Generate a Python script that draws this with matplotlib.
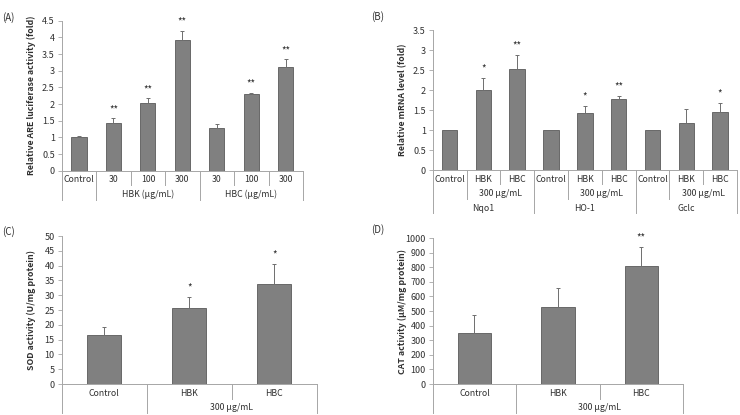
"""
Four-panel bar chart: ARE luciferase, mRNA levels, SOD and CAT activity.
"""

import matplotlib

matplotlib.use("Agg")
import matplotlib.pyplot as plt
import numpy as np

plt.rcParams["font.family"] = ["Noto Sans CJK KR", "DejaVu Sans"]

W, H = 740, 415

# ---- data ----
a_labels = ["Control", "30", "100", "300", "30", "100", "300"]
a_groups = [("", 0, 0), ("HBK (μg/mL)", 1, 3), ("HBC (μg/mL)", 4, 6)]
a_values = [1.0, 1.42, 2.03, 3.92, 1.29, 2.29, 3.10]
a_errors = [0.05, 0.15, 0.14, 0.27, 0.10, 0.05, 0.24]
a_stars = ["", "**", "**", "**", "", "**", "**"]
a_ticks = [0, 0.5, 1, 1.5, 2, 2.5, 3, 3.5, 4, 4.5]

b_labels = ["Control", "HBK", "HBC"] * 3
b_groups = [("", 0, 0), ("300 µg/mL", 1, 2),
            ("", 3, 3), ("300 µg/mL", 4, 5),
            ("", 6, 6), ("300 µg/mL", 7, 8)]
b_genes = [("Nqo1", 0, 2), ("HO-1", 3, 5), ("Gclc", 6, 8)]
b_values = [1.0, 2.0, 2.53, 1.0, 1.43, 1.78, 1.0, 1.17, 1.46]
b_errors = [0, 0.30, 0.35, 0, 0.17, 0.07, 0, 0.35, 0.22]
b_stars = ["", "*", "**", "", "*", "**", "", "", "*"]
b_ticks = [0, 0.5, 1, 1.5, 2, 2.5, 3, 3.5]

c_labels = ["Control", "HBK", "HBC"]
c_groups = [("", 0, 0), ("300 µg/mL", 1, 2)]
c_values = [16.5, 25.7, 33.8]
c_errors = [2.8, 3.8, 6.9]
c_stars = ["", "*", "*"]
c_ticks = list(range(0, 51, 5))

d_labels = ["Control", "HBK", "HBC"]
d_groups = [("", 0, 0), ("300 µg/mL", 1, 2)]
d_values = [350, 530, 805]
d_errors = [125, 125, 135]
d_stars = ["", "", "**"]
d_ticks = list(range(0, 1001, 100))

BAR = "#808080"
EDGE = "#5a5a5a"
LINE = "#a6a6a6"
TXT = "#303030"
ROW = 14.5  # px height of one category row


def make_axes(fig, left, right, top, bottom):
    return fig.add_axes([left / W, (H - bottom) / H, (right - left) / W, (bottom - top) / H])


def draw_panel(ax, labels, levels, values, errors, stars, ticks, ylabel, ah_px, aw_px, width):
    x = np.arange(len(values))
    ax.bar(x, values, width=width, color=BAR, edgecolor=EDGE, linewidth=0.6, zorder=2)
    err = np.array(errors, dtype=float)
    has = err > 0
    ax.errorbar(x[has], np.array(values)[has], yerr=[np.zeros(has.sum()), err[has]],
                fmt="none", ecolor="#6e6e6e", elinewidth=0.7, capsize=1.5, capthick=0.7, zorder=3)
    for xi, v, e, s in zip(x, values, errors, stars):
        if s:
            ax.annotate(s, (xi, v + e), xytext=(0, 3), textcoords="offset points",
                        ha="center", va="bottom", fontsize=7, color=TXT)

    n = len(values)
    ax.set_xlim(-0.5, n - 0.5)
    ax.set_ylim(ticks[0], ticks[-1])
    ax.set_yticks(ticks)
    ax.set_yticklabels([f"{t:g}" for t in ticks])
    ax.set_xticks([])
    ax.tick_params(axis="y", length=3, width=0.6, color=LINE, labelsize=6.5, labelcolor=TXT, pad=2)
    for side in ("top", "right"):
        ax.spines[side].set_visible(False)
    for side in ("left", "bottom"):
        ax.spines[side].set_color(LINE)
        ax.spines[side].set_linewidth(0.7)

    tr = ax.get_xaxis_transform()

    def yfrac(px):
        return -px / ah_px

    # row 1: individual categories
    for xi, lab in zip(x, labels):
        ax.text(xi, yfrac(9), lab, transform=tr, ha="center", va="center", fontsize=6.3, color=TXT)
    # deeper rows
    depth = {b: 1 for b in range(n + 1)}
    for lvl, spans in enumerate(levels, start=2):
        for lab, s, e in spans:
            if lab:
                ax.text((s + e) / 2, yfrac(9 + ROW * (lvl - 1)), lab, transform=tr,
                        ha="center", va="center", fontsize=6.3, color=TXT)
            depth[s] = max(depth[s], lvl)
            depth[e + 1] = max(depth[e + 1], lvl)
    full = len(levels) + 1
    depth[0] = full
    depth[n] = full
    for b in range(n + 1):
        ax.plot([b - 0.5, b - 0.5], [0, yfrac(ROW * depth[b])], transform=tr,
                color=LINE, linewidth=0.7, clip_on=False)

    ax.text(-30 / aw_px, 0.5, ylabel, transform=ax.transAxes, rotation=90,
            ha="center", va="center", fontsize=6.3, fontweight="bold", color=TXT)
    return ax


fig = plt.figure(figsize=(W / 100, H / 100), dpi=100)

ax_a = make_axes(fig, 61.7, 303, 20.7, 170.7)
draw_panel(ax_a, a_labels, [a_groups], a_values, a_errors, a_stars, a_ticks,
           "Relative ARE luciferase activity (fold)", 150, 241.3, 0.44)

ax_b = make_axes(fig, 432.7, 737, 30, 170)
draw_panel(ax_b, b_labels, [b_groups, b_genes], b_values, b_errors, b_stars, b_ticks,
           "Relative mRNA level (fold)", 140, 304.3, 0.46)

ax_c = make_axes(fig, 61.7, 316.7, 236, 384)
draw_panel(ax_c, c_labels, [c_groups], c_values, c_errors, c_stars, c_ticks,
           "SOD activity (U/mg protein)", 148, 255, 0.4)

ax_d = make_axes(fig, 432.7, 683, 238, 384)
draw_panel(ax_d, d_labels, [d_groups], d_values, d_errors, d_stars, d_ticks,
           "CAT activity (μM/mg protein)", 146, 250.3, 0.4)

for letter, px, py in [("(A)", 2, 18), ("(B)", 371, 17), ("(C)", 2, 232), ("(D)", 371, 230)]:
    fig.text(px / W, 1 - py / H, letter, ha="left", va="center", fontsize=7, color=TXT)

fig.savefig("out.png", dpi=100)
